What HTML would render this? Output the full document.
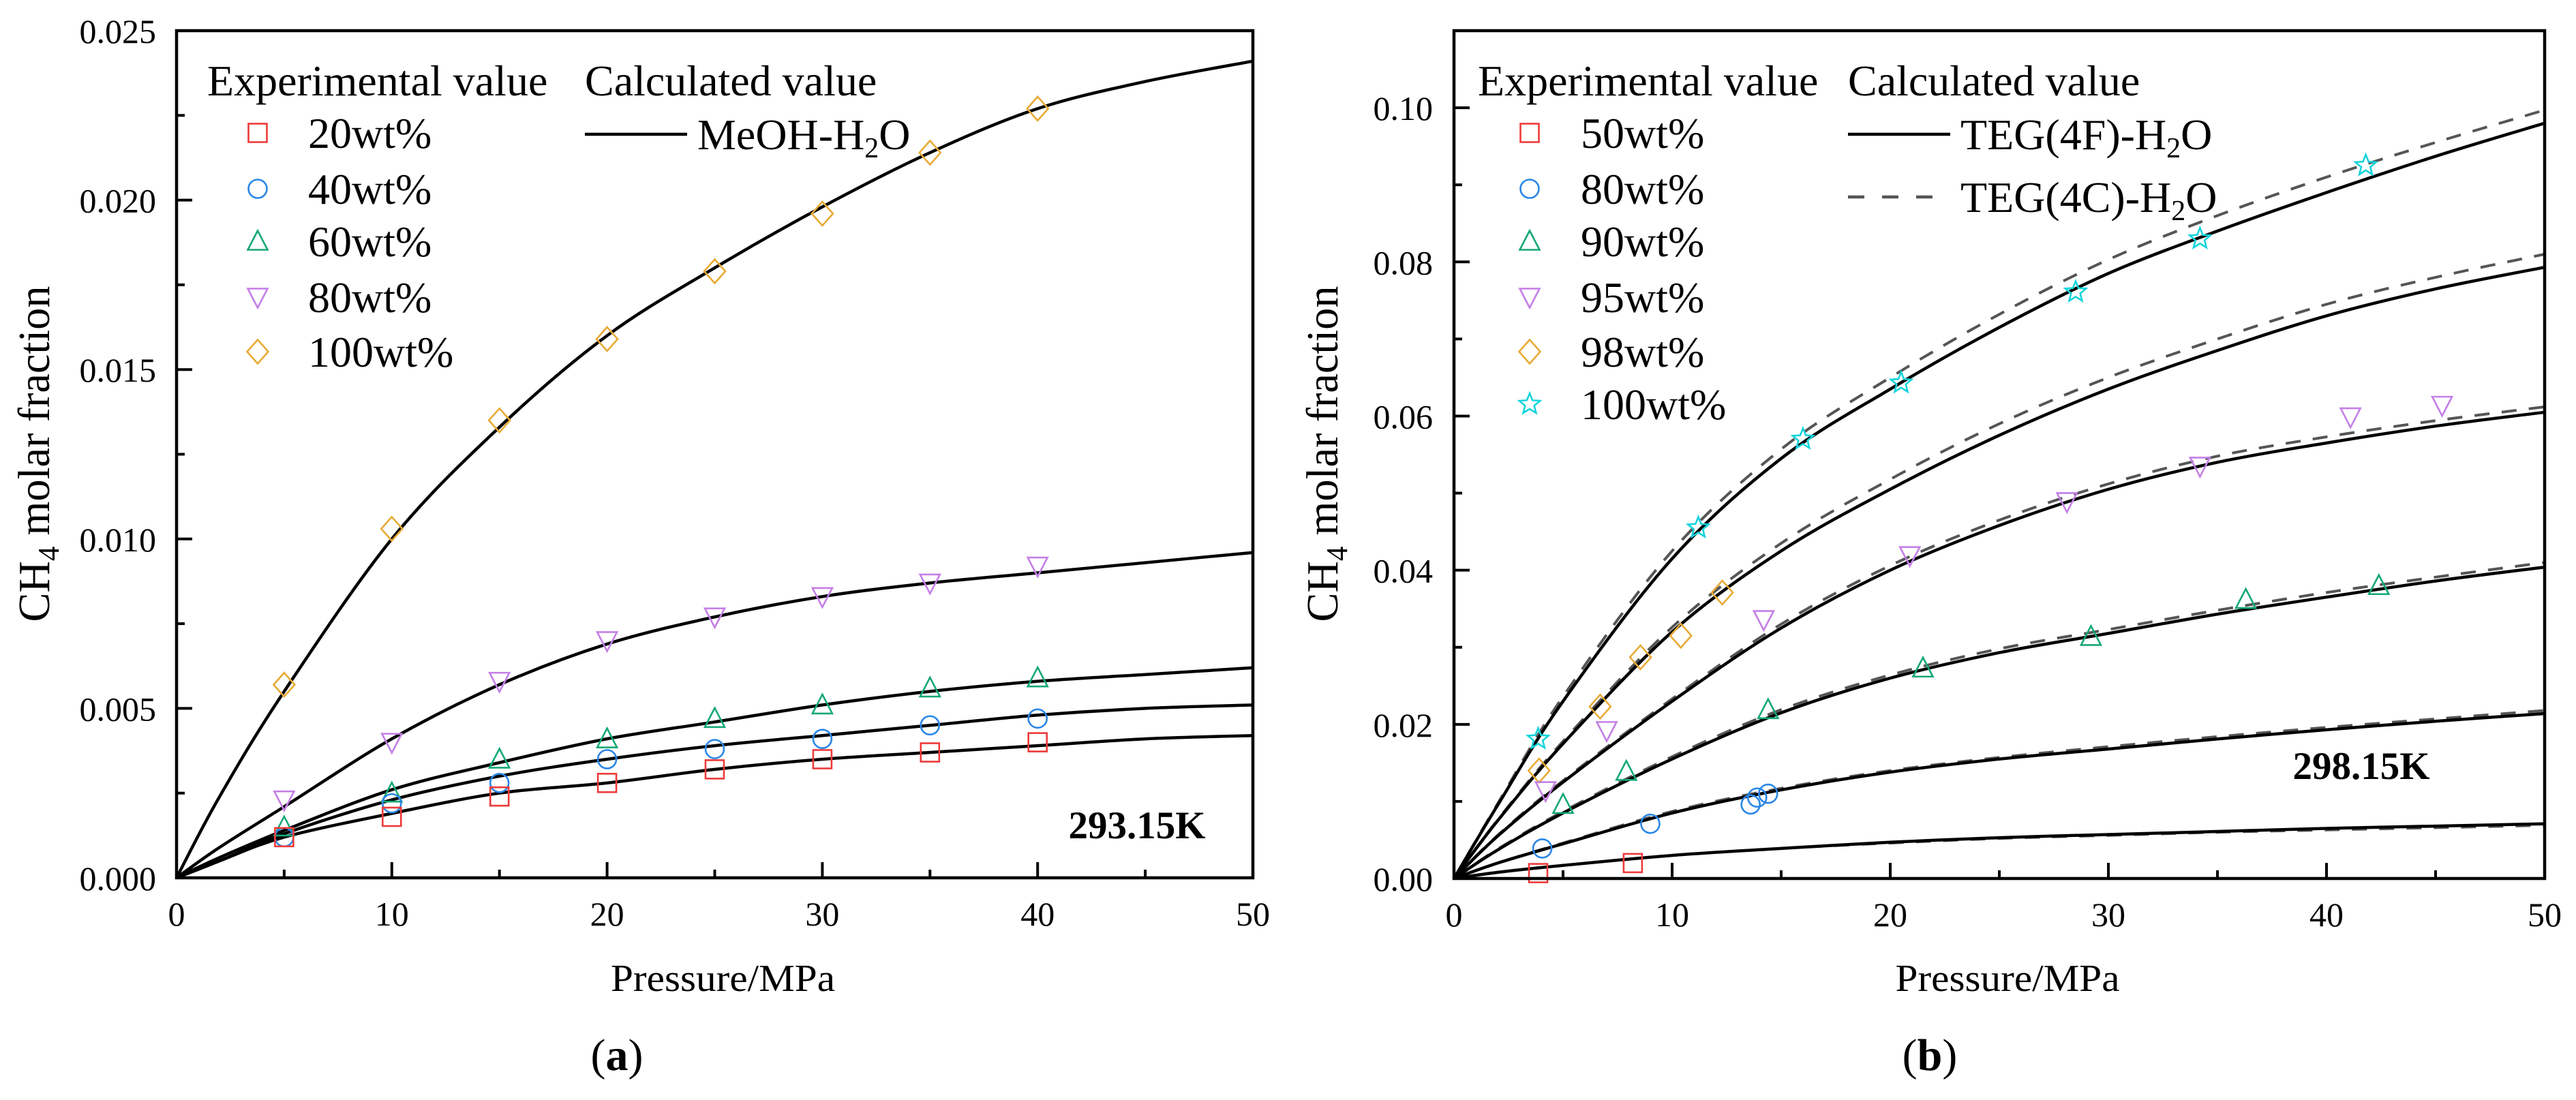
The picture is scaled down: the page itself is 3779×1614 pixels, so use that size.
<!DOCTYPE html>
<html><head><meta charset="utf-8">
<style>
html,body{margin:0;padding:0;background:#fff;}
svg, svg text, svg tspan{font-family:"Liberation Serif","Times New Roman",serif !important;}
</style></head>
<body>
<svg id="fig" width="3779" height="1609" viewBox="0 0 3779 1609" font-family="Liberation Serif, serif" xmlns="http://www.w3.org/2000/svg"></svg>
<script>
// ---------- Panel (a) data ----------
const aCurveX = [0, 2, 5, 10, 15, 20, 25, 30, 35, 40, 45, 50];
const aCurve100 = [0, 0.0024, 0.0055, 0.0100, 0.0133, 0.0160, 0.0180, 0.0198, 0.0214, 0.0227, 0.0235, 0.0241];
const aCurve80 = [0, 0.0009, 0.0021, 0.0041, 0.0057, 0.0069, 0.0077, 0.0083, 0.0087, 0.0090, 0.0093, 0.0096];
const aCurve60 = [0, 0.0006, 0.0014, 0.0026, 0.0034, 0.0041, 0.0046, 0.0051, 0.0055, 0.0058, 0.0060, 0.0062];
const aCurve40 = [0, 0.0005, 0.0013, 0.0023, 0.0030, 0.0035, 0.0039, 0.0042, 0.0045, 0.0048, 0.0050, 0.0051];
const aCurve20 = [0, 0.0005, 0.0012, 0.0019, 0.0025, 0.0028, 0.0032, 0.0035, 0.0037, 0.0039, 0.0041, 0.0042];
const aExpX = [5, 10, 15, 20, 25, 30, 35, 40];
const aExp100 = [0.0057, 0.0103, 0.0135, 0.0159, 0.0179, 0.0196, 0.0214, 0.0227];
const aExp80 = [0.0023, 0.0040, 0.0058, 0.0070, 0.0077, 0.0083, 0.0087, 0.0092];
const aExp60 = [0.0015, 0.0025, 0.0035, 0.0041, 0.0047, 0.0051, 0.0056, 0.0059];
const aExp40 = [0.0012, 0.0022, 0.0028, 0.0035, 0.0038, 0.0041, 0.0045, 0.0047];
const aExp20 = [0.0012, 0.0018, 0.0024, 0.0028, 0.0032, 0.0035, 0.0037, 0.0040];
const aXTicks = [0, 10, 20, 30, 40, 50];
const aYTicks = [0, 0.005, 0.010, 0.015, 0.020, 0.025];
const aYTickLabels = ["0.000", "0.005", "0.010", "0.015", "0.020", "0.025"];

// ---------- Panel (b) data ----------
const bCurveX = [0, 2, 5, 10, 15, 20, 25, 30, 35, 40, 45, 50];
const bSolid1 = [0, 0.0095, 0.0230, 0.0415, 0.0545, 0.0635, 0.0715, 0.0785, 0.0840, 0.0890, 0.0937, 0.0980];
const bDash1 = [0, 0.0097, 0.0236, 0.0425, 0.0557, 0.0650, 0.0732, 0.0803, 0.0860, 0.0910, 0.0955, 0.0997];
const bSolid2 = [0, 0.0075, 0.0175, 0.0320, 0.0425, 0.0505, 0.0575, 0.0635, 0.0685, 0.0730, 0.0765, 0.0793];
const bDash2 = [0, 0.0076, 0.0178, 0.0326, 0.0435, 0.0518, 0.0590, 0.0650, 0.0700, 0.0745, 0.0780, 0.0810];
const bSolid3 = [0, 0.0055, 0.0125, 0.0230, 0.0325, 0.0400, 0.0458, 0.0505, 0.0540, 0.0565, 0.0587, 0.0605];
const bDash3 = [0, 0.0056, 0.0127, 0.0233, 0.0330, 0.0406, 0.0465, 0.0512, 0.0548, 0.0573, 0.0594, 0.0612];
const bSolid4 = [0, 0.0037, 0.0085, 0.0155, 0.0215, 0.0260, 0.0293, 0.0318, 0.0343, 0.0365, 0.0386, 0.0404];
const bDash4 = [0, 0.0038, 0.0087, 0.0158, 0.0219, 0.0264, 0.0298, 0.0323, 0.0348, 0.0371, 0.0391, 0.0410];
const bSolid5 = [0, 0.0020, 0.0045, 0.0085, 0.0115, 0.0138, 0.0155, 0.0168, 0.0181, 0.0193, 0.0204, 0.0214];
const bDash5 = [0, 0.0020, 0.0046, 0.0087, 0.0117, 0.0140, 0.0157, 0.0171, 0.0184, 0.0196, 0.0207, 0.0218];
const bSolid6 = [0, 0.0008, 0.0017, 0.0030, 0.0039, 0.0047, 0.0053, 0.0057, 0.0061, 0.0065, 0.0068, 0.0071];
const bDash6 = [0, 0.0008, 0.0017, 0.0030, 0.0039, 0.0046, 0.0052, 0.0056, 0.0060, 0.0063, 0.0066, 0.0069];
const b100X = [3.86, 11.2, 16.0, 20.5, 28.5, 34.2, 41.8];
const b100Y = [0.0181, 0.0455, 0.0570, 0.0643, 0.0761, 0.0830, 0.0925];
const b98X = [3.9, 6.7, 8.55, 10.4, 12.3];
const b98Y = [0.0140, 0.0223, 0.0287, 0.0315, 0.0371];
const b95X = [4.2, 7.0, 14.2, 20.9, 28.1, 34.2, 41.1, 45.3];
const b95Y = [0.0114, 0.0192, 0.0336, 0.0419, 0.0489, 0.0535, 0.0599, 0.0614];
const b90X = [5.0, 7.9, 14.4, 21.5, 29.2, 36.3, 42.4];
const b90Y = [0.0096, 0.0139, 0.0219, 0.0273, 0.0314, 0.0362, 0.0380];
const b80X = [4.05, 9.0, 13.6, 13.9, 14.4];
const b80Y = [0.0039, 0.0071, 0.0096, 0.0105, 0.0110];
const b50X = [3.86, 8.2];
const b50Y = [0.0007, 0.0020];
const bXTicks = [0, 10, 20, 30, 40, 50];
const bYTicks = [0, 0.02, 0.04, 0.06, 0.08, 0.10];
const bYTickLabels = ["0.00", "0.02", "0.04", "0.06", "0.08", "0.10"];

const NS = "http://www.w3.org/2000/svg";
const svg = document.getElementById('fig');
const FONT = '"Liberation Serif", serif';
function el(tag, attrs, parent) {
  const e = document.createElementNS(NS, tag);
  for (const k in attrs) e.setAttribute(k, attrs[k]);
  if (tag === 'text') e.setAttribute('font-family', FONT);
  (parent || svg).appendChild(e);
  return e;
}
const COLORS = {red:"#ee3a3a", blue:"#2a86e6", green:"#14a874", purple:"#c47fe6", orange:"#e8aa35", cyan:"#14d4dc"};

function smoothPath(pts) {
  let d = "M" + pts[0][0].toFixed(1) + "," + pts[0][1].toFixed(1);
  for (let i = 0; i < pts.length - 1; i++) {
    const p0 = pts[Math.max(0, i - 1)], p1 = pts[i], p2 = pts[i + 1], p3 = pts[Math.min(pts.length - 1, i + 2)];
    const c1x = p1[0] + (p2[0] - p0[0]) / 6, c1y = p1[1] + (p2[1] - p0[1]) / 6;
    const c2x = p2[0] - (p3[0] - p1[0]) / 6, c2y = p2[1] - (p3[1] - p1[1]) / 6;
    d += " C" + c1x.toFixed(1) + "," + c1y.toFixed(1) + " " + c2x.toFixed(1) + "," + c2y.toFixed(1) + " " + p2[0].toFixed(1) + "," + p2[1].toFixed(1);
  }
  return d;
}

function marker(g, type, cx, cy, color) {
  const s = 13.5;
  let m;
  if (type === 'square') m = el('rect', {x: cx - s, y: cy - s, width: 2 * s, height: 2 * s}, g);
  else if (type === 'circle') m = el('circle', {cx: cx, cy: cy, r: s}, g);
  else if (type === 'up') m = el('polygon', {points: `${cx},${cy - s - 2} ${cx + s + 1},${cy + s - 1} ${cx - s - 1},${cy + s - 1}`}, g);
  else if (type === 'down') m = el('polygon', {points: `${cx},${cy + s + 2} ${cx + s + 1},${cy - s + 1} ${cx - s - 1},${cy - s + 1}`}, g);
  else if (type === 'diamond') m = el('polygon', {points: `${cx},${cy - s - 4} ${cx + s + 2},${cy} ${cx},${cy + s + 4} ${cx - s - 2},${cy}`}, g);
  else if (type === 'star') {
    let p = [];
    for (let i = 0; i < 10; i++) {
      const r = i % 2 ? 7 : 16, a = -Math.PI / 2 + i * Math.PI / 5;
      p.push((cx + r * Math.cos(a)).toFixed(1) + "," + (cy + r * Math.sin(a)).toFixed(1));
    }
    m = el('polygon', {points: p.join(' ')}, g);
  }
  m.setAttribute('fill', 'none');
  m.setAttribute('stroke', color);
  m.setAttribute('stroke-width', '2.6');
  return m;
}

function text(str, x, y, size, opts, parent) {
  const t = el('text', Object.assign({x: x, y: y, 'font-size': size, fill: '#000'}, opts || {}), parent);
  t.textContent = str;
  return t;
}

function drawPanel(cfg) {
  const g = el('g', {});
  
  
  const X = v => cfg.x0 + (v - 0) / 50 * (cfg.x1 - cfg.x0);
  const Y = v => cfg.y0 - v / cfg.ymax * (cfg.y0 - cfg.y1);
  cfg.curves.forEach((c, i) => {
    const pts = cfg.curveX.map((x, j) => [X(x), Y(c.y[j])]);
    const p = el('path', {d: smoothPath(pts), fill: 'none', stroke: c.dash ? '#555' : '#000', 'stroke-width': c.dash ? 4 : 4.5, 'stroke-dasharray': c.dash ? '22,18' : 'none'}, g);
    
    
  });
  cfg.series.forEach(s => {
    const sg = el('g', {}, g);
    
    
    s.xs.forEach((x, j) => {
      const m = marker(sg, s.type, X(x), Y(s.ys[j]), s.color);
      
      
    });
  });
  const fr = el('rect', {x: cfg.x0, y: cfg.y1, width: cfg.x1 - cfg.x0, height: cfg.y0 - cfg.y1, fill: 'none', stroke: '#000', 'stroke-width': 4.5}, g);
  
  
  for (let v = 0; v <= 50; v += 5) {
    const major = v % 10 === 0;
    el('line', {x1: X(v), x2: X(v), y1: cfg.y0, y2: cfg.y0 - (major ? 23 : 12), stroke: '#000', 'stroke-width': 4}, g);
  }
  cfg.xTicks.forEach(v => {
    const t = text(String(v), X(v), cfg.y0 + 70, 50, {'text-anchor': 'middle'}, g);
    
    
  });
  const step = cfg.yTicks[1] - cfg.yTicks[0];
  for (let k = 0; k * step / 2 <= cfg.ymax + 1e-9; k++) {
    const v = k * step / 2;
    el('line', {x1: cfg.x0, x2: cfg.x0 + (k % 2 === 0 ? 23 : 12), y1: Y(v), y2: Y(v), stroke: '#000', 'stroke-width': 4}, g);
  }
  cfg.yTicks.forEach((v, i) => {
    const t = text(cfg.yTickLabels[i], cfg.yLabelRight, Y(v) + 18, 50, {'text-anchor': 'end'}, g);
    
    
  });
  const xt = text('Pressure/MPa', (cfg.x0 + cfg.x1) / 2 + 12, 1454, 56, {'text-anchor': 'middle', textLength: 329, lengthAdjust: 'spacingAndGlyphs'}, g);
  
  
  const yt = el('text', {x: 0, y: 0, 'font-size': 66, transform: `translate(${cfg.yTitleX},666) rotate(-90)`, 'text-anchor': 'middle', textLength: 493, lengthAdjust: 'spacingAndGlyphs'}, g);
  
  
  yt.innerHTML = 'CH<tspan font-size="44" dy="14">4</tspan><tspan dy="-14"> molar fraction</tspan>';
  const cap = el('text', {x: cfg.capX, y: 1570, 'font-size': 66, 'text-anchor': 'middle'}, g);
  
  
  cap.innerHTML = '(<tspan font-weight="bold">' + cfg.cap + '</tspan>)';
  const tl = text(cfg.temp, cfg.tempX, cfg.tempY, 57, {'font-weight': 'bold', 'text-anchor': 'middle'}, g);
  
  
  const lg = el('g', {}, g);
  
  
  text('Experimental value', cfg.legX, 140, 64, {}, lg);
  text('Calculated value', cfg.calcX, 140, 64, {}, lg);
  const rows = [195, 277, 354, 436, 516, 593];
  cfg.series.slice().reverse().forEach((s, i) => {
    const m = marker(lg, s.type, cfg.legMarkX, rows[i], s.color);
    
    
    const t = text(s.label, cfg.legTextX, rows[i] + 22, 64, {}, lg);
    
    
  });
  cfg.lineLegend.forEach((L, i) => {
    const yy = [197, 289][i];
    el('line', {x1: cfg.calcX, x2: cfg.calcX + 150, y1: yy, y2: yy, stroke: L.dash ? '#555' : '#000', 'stroke-width': 4.5, 'stroke-dasharray': L.dash ? '24,26' : 'none'}, lg);
    const t = el('text', {x: cfg.calcX + 165, y: yy + 22, 'font-size': 64}, lg);
    
    
    t.innerHTML = L.name + '-H<tspan font-size="42" dy="12">2</tspan><tspan dy="-12">O</tspan>';
  });
}

drawPanel({
  name: 'panel-a', x0: 259, x1: 1838, y0: 1288, y1: 45, ymax: 0.025,
  curveX: aCurveX,
  curves: [
    {label: '100wt', y: aCurve100}, {label: '80wt', y: aCurve80}, {label: '60wt', y: aCurve60},
    {label: '40wt', y: aCurve40}, {label: '20wt', y: aCurve20}
  ],
  series: [
    {label: '100wt%', type: 'diamond', color: COLORS.orange, xs: aExpX, ys: aExp100},
    {label: '80wt%', type: 'down', color: COLORS.purple, xs: aExpX, ys: aExp80},
    {label: '60wt%', type: 'up', color: COLORS.green, xs: aExpX, ys: aExp60},
    {label: '40wt%', type: 'circle', color: COLORS.blue, xs: aExpX, ys: aExp40},
    {label: '20wt%', type: 'square', color: COLORS.red, xs: aExpX, ys: aExp20}
  ],
  xTicks: aXTicks, yTicks: aYTicks, yTickLabels: aYTickLabels, yLabelRight: 229,
  yTitleX: 72, capX: 905, cap: 'a', temp: '293.15K', tempX: 1668, tempY: 1230,
  legX: 304, calcX: 858, legMarkX: 378, legTextX: 452,
  lineLegend: [{name: 'MeOH', dash: false}]
});

drawPanel({
  name: 'panel-b', x0: 2133, x1: 3733, y0: 1289, y1: 45, ymax: 0.11,
  curveX: bCurveX,
  curves: [
    {label: '1', y: bDash1, dash: true}, {label: '1', y: bSolid1},
    {label: '2', y: bDash2, dash: true}, {label: '2', y: bSolid2},
    {label: '3', y: bDash3, dash: true}, {label: '3', y: bSolid3},
    {label: '4', y: bDash4, dash: true}, {label: '4', y: bSolid4},
    {label: '5', y: bDash5, dash: true}, {label: '5', y: bSolid5},
    {label: '6', y: bDash6, dash: true}, {label: '6', y: bSolid6}
  ],
  series: [
    {label: '100wt%', type: 'star', color: COLORS.cyan, xs: b100X, ys: b100Y},
    {label: '98wt%', type: 'diamond', color: COLORS.orange, xs: b98X, ys: b98Y},
    {label: '95wt%', type: 'down', color: COLORS.purple, xs: b95X, ys: b95Y},
    {label: '90wt%', type: 'up', color: COLORS.green, xs: b90X, ys: b90Y},
    {label: '80wt%', type: 'circle', color: COLORS.blue, xs: b80X, ys: b80Y},
    {label: '50wt%', type: 'square', color: COLORS.red, xs: b50X, ys: b50Y}
  ],
  xTicks: bXTicks, yTicks: bYTicks, yTickLabels: bYTickLabels, yLabelRight: 2102,
  yTitleX: 1962, capX: 2831, cap: 'b', temp: '298.15K', tempX: 3464, tempY: 1143,
  legX: 2168, calcX: 2711, legMarkX: 2244, legTextX: 2319,
  lineLegend: [{name: 'TEG(4F)', dash: false}, {name: 'TEG(4C)', dash: true}]
});
</script>
</body></html>
